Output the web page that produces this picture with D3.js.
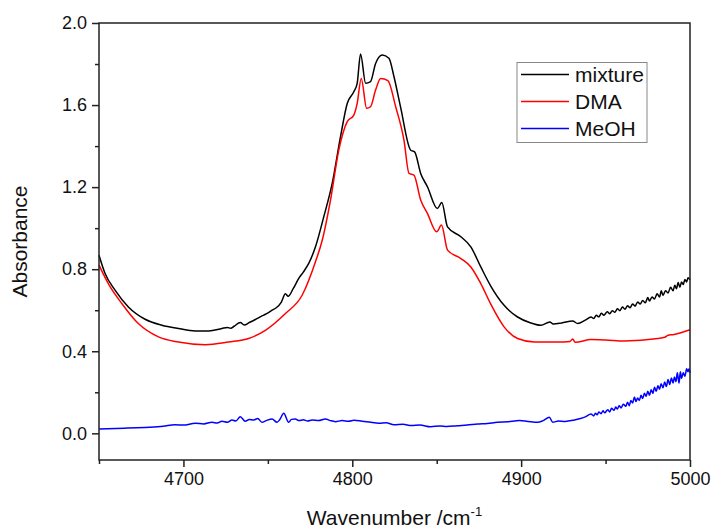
<!DOCTYPE html>
<html>
<head>
<meta charset="utf-8">
<script src="https://cdn.jsdelivr.net/npm/d3@7/dist/d3.min.js"></script>
<style>
  html, body { margin: 0; padding: 0; background: #fff; }
  svg { display: block; font-family: "Liberation Sans", Arial, sans-serif; }
</style>
</head>
<body>
<svg id="chart" width="712" height="528"></svg>
<script>
// ---- data (wavenumber cm^-1, absorbance) ----
const mixture = [
  [4650,0.868],[4653.6,0.779],[4659.5,0.698],[4667.4,0.616],[4677.3,0.556],[4687.2,0.527],
  [4697,0.511],[4707,0.499],[4715,0.499],[4722.8,0.511],[4726,0.516],[4728,0.512],[4730,0.522],[4733.7,0.540],
  [4736,0.528],[4739,0.540],[4742.6,0.555],[4746,0.570],[4749,0.582],[4752.5,0.600],[4755,0.612],[4758,0.640],[4760.4,0.680],[4762,0.668],
  [4765,0.705],[4768.3,0.755],[4771,0.786],[4774.2,0.828],[4778.2,0.909],[4783.1,1.055],[4788.1,1.218],[4793,1.445],
  [4797,1.608],[4800.9,1.665],[4802.9,1.706],[4804.9,1.849],[4807.9,1.706],[4810.8,1.714],
  [4813.8,1.803],[4817.8,1.844],[4821.7,1.828],[4824.7,1.738],[4828.6,1.590],[4834.6,1.380],
  [4836.9,1.372],[4840.5,1.267],[4844.5,1.202],[4850.4,1.096],[4853,1.125],[4856.4,1.006],
  [4864.3,0.958],[4870.2,0.909],[4876.1,0.811],[4882,0.718],[4889.9,0.624],[4897.9,0.567],
  [4905,0.540],[4911.7,0.527],[4917,0.543],[4919,0.533],[4924,0.538],[4930.5,0.548],
  [4933.5,0.535],[4938,0.552],[4941.4,0.567],[4943,0.560],[4944.5,0.575],[4946,0.568],[4947.5,0.585],
  [4949,0.576],[4951,0.592],[4952.5,0.583],[4954,0.598],[4955.5,0.590],[4957,0.607],[4958.5,0.598],
  [4960,0.616],[4961.5,0.605],[4963,0.622],[4964.5,0.612],[4966,0.630],[4967.5,0.620],[4969,0.640],
  [4970.5,0.630],[4972,0.648],[4973.5,0.636],[4975,0.662],[4976,0.645],[4977.5,0.665],[4979,0.655],
  [4980.5,0.680],[4982,0.665],[4983,0.695],[4984,0.672],[4985.5,0.695],[4987,0.684],[4988.5,0.712],
  [4990,0.695],[4991,0.722],[4992,0.705],[4993,0.735],[4994,0.712],[4995,0.738],[4996,0.725],
  [4997,0.750],[4998,0.738],[4998.8,0.758],[5000,0.748]
];
const dma = [
  [4650,0.820],[4655.5,0.730],[4663.5,0.633],[4673.3,0.535],[4685.2,0.470],[4697,0.445],
  [4712.9,0.432],[4726.7,0.445],[4738.6,0.462],[4748.5,0.502],[4760.4,0.584],[4770.3,0.673],
  [4778.2,0.836],[4782.2,0.941],[4787.1,1.137],[4792,1.380],[4797,1.519],[4800.9,1.551],
  [4802.9,1.608],[4805.3,1.730],[4808.5,1.584],[4810.8,1.592],[4813.8,1.673],[4816.8,1.730],
  [4821.1,1.719],[4825.7,1.592],[4830.6,1.429],[4833.6,1.267],[4836.5,1.259],[4840.5,1.137],
  [4844.5,1.072],[4850,0.982],[4852.8,1.015],[4856.4,0.893],[4864.3,0.852],[4870.2,0.811],
  [4876.1,0.730],[4882,0.630],[4889.9,0.519],[4897.9,0.462],[4907.8,0.445],[4921.6,0.445],
  [4929,0.448],[4930.5,0.460],[4932,0.444],[4941.4,0.457],[4950,0.455],[4961.2,0.450],
  [4981,0.462],[4985,0.468],[4987,0.478],[4989.9,0.481],[5000,0.505]
];
const meoh = [
  [4650,0.021],[4665,0.025],[4677.3,0.029],[4688,0.034],[4695,0.042],[4700,0.040],[4707,0.049],[4712,0.046],[4716.9,0.054],
  [4720,0.050],[4722.8,0.059],[4726,0.054],[4728.8,0.065],[4731,0.060],[4733.7,0.081],[4736.6,0.059],[4739,0.068],[4741.6,0.065],[4744,0.072],[4746.5,0.054],
  [4749,0.062],[4752.5,0.070],[4755.4,0.054],[4757,0.066],[4759.4,0.098],[4762.3,0.054],[4764,0.068],[4766.3,0.070],[4768.5,0.062],[4771,0.066],
  [4773.5,0.060],[4776.2,0.065],[4780,0.062],[4784.1,0.070],[4787,0.062],[4790,0.057],[4794,0.062],[4797.9,0.059],[4801,0.064],[4805.9,0.059],[4810,0.055],[4815.8,0.049],
  [4820,0.052],[4824.7,0.042],[4830,0.044],[4835,0.038],[4840,0.040],[4846.4,0.032],[4852,0.036],[4856,0.033],[4862.3,0.037],[4868,0.040],[4874.2,0.045],[4880,0.048],[4886,0.054],
  [4892,0.056],[4898.9,0.062],[4904,0.058],[4909.8,0.054],[4913,0.062],[4916.7,0.078],[4918.7,0.054],[4922,0.060],[4926,0.058],[4931.5,0.065],[4935,0.072],[4938,0.080],
  [4941.4,0.094],[4943,0.085],[4944,0.098],[4945,0.090],[4946,0.104],[4947.3,0.096],[4948.5,0.110],[4949.5,0.100],
  [4951.3,0.115],[4952.5,0.104],[4953.5,0.122],[4955,0.112],[4956,0.128],[4957,0.118],[4958,0.135],[4959.2,0.124],
  [4960.5,0.142],[4962,0.132],[4963,0.152],[4964,0.135],[4965,0.160],[4966,0.148],[4967.1,0.177],[4968,0.155],
  [4969,0.172],[4970,0.160],[4971,0.185],[4972,0.170],[4973,0.195],[4974,0.180],[4975,0.205],[4976,0.185],
  [4977,0.212],[4978,0.195],[4979,0.225],[4980,0.205],[4981,0.232],[4982,0.215],[4982.9,0.242],[4984,0.222],
  [4985,0.250],[4986,0.228],[4987,0.262],[4988,0.238],[4989,0.270],[4990,0.245],[4990.8,0.275],[4991.7,0.252],
  [4992.5,0.295],[4993.5,0.245],[4994.3,0.300],[4995,0.268],[4996,0.295],[4997,0.278],[4998,0.315],[4998.8,0.300],
  [4999.5,0.315],[5000,0.295]
];
const seriesNames = ["mixture", "DMA", "MeOH"];
const seriesColors = ["#000000", "#ff0000", "#0000ff"];
const xMajorTicks = [4700, 4800, 4900, 5000];
const xMinorTicks = [4650, 4750, 4850, 4950];
const yMajorTicks = [0.0, 0.4, 0.8, 1.2, 1.6, 2.0];
const yMinorTicks = [0.2, 0.6, 1.0, 1.4, 1.8];

// ---- layout ----
const L = 99, R = 690, T = 23, B = 460;
const svg = d3.select("#chart");
const x = d3.scaleLinear().domain([4650, 5000]).range([L, R]);
const y = d3.scaleLinear().domain([-0.13, 2.0]).range([B, T]);

// curves
const line = d3.line().x(d => x(d[0])).y(d => y(d[1])).curve(d3.curveMonotoneX);
const data = [mixture, dma, meoh];
const g = svg.append("g");
data.forEach((s, i) => {
  g.append("path").datum(s).attr("d", line)
    .attr("fill", "none").attr("stroke", seriesColors[i])
    .attr("stroke-width", 1.5).attr("stroke-linejoin", "round");
});

// axes
const fmtY = d3.format(".1f");
const xAxis = svg.append("g").attr("transform", `translate(0,${B})`)
  .call(d3.axisBottom(x).tickValues(xMajorTicks).tickFormat(d3.format("d")).tickSize(7).tickPadding(5));
const xMinor = svg.append("g").attr("transform", `translate(0,${B})`)
  .call(d3.axisBottom(x).tickValues(xMinorTicks).tickFormat("").tickSize(4));
const yAxis = svg.append("g").attr("transform", `translate(${L},0)`)
  .call(d3.axisLeft(y).tickValues(yMajorTicks).tickFormat(fmtY).tickSize(7).tickPadding(5));
const yMinor = svg.append("g").attr("transform", `translate(${L},0)`)
  .call(d3.axisLeft(y).tickValues(yMinorTicks).tickFormat("").tickSize(4));
[xAxis, xMinor, yAxis, yMinor].forEach(a => {
  a.select(".domain").remove();
  a.selectAll(".tick line").attr("stroke", "#222").attr("stroke-width", 1.5);
  a.selectAll(".tick text").attr("fill", "#111").style("font-size", "18px")
    .style("font-family", "'Liberation Sans', Arial, sans-serif");
});

// frame
svg.append("rect").attr("x", L).attr("y", T).attr("width", R - L).attr("height", B - T)
  .attr("fill", "none").attr("stroke", "#222").attr("stroke-width", 1.5);

// axis titles
const xt = svg.append("text").attr("x", (L + R) / 2).attr("y", 525)
  .attr("text-anchor", "middle").style("font-size", "21px").attr("fill", "#111");
xt.append("tspan").text("Wavenumber /cm");
xt.append("tspan").text("-1").attr("dy", -9).style("font-size", "13px");

svg.append("text").attr("transform", `translate(27,${(T + B) / 2}) rotate(-90)`)
  .attr("text-anchor", "middle").style("font-size", "21px").attr("fill", "#111")
  .text("Absorbance");

// legend
const lg = svg.append("g");
lg.append("rect").attr("x", 517).attr("y", 62.5).attr("width", 130).attr("height", 80)
  .attr("fill", "#fff").attr("stroke", "#888").attr("stroke-width", 1);
seriesNames.forEach((n, i) => {
  const yy = 74.5 + i * 27;
  lg.append("line").attr("x1", 521).attr("x2", 569).attr("y1", yy).attr("y2", yy)
    .attr("stroke", seriesColors[i]).attr("stroke-width", 1.5);
  lg.append("text").attr("x", 575).attr("y", yy + 7.5).style("font-size", "21px")
    .attr("fill", "#111").text(n);
});
</script>
</body>
</html>
